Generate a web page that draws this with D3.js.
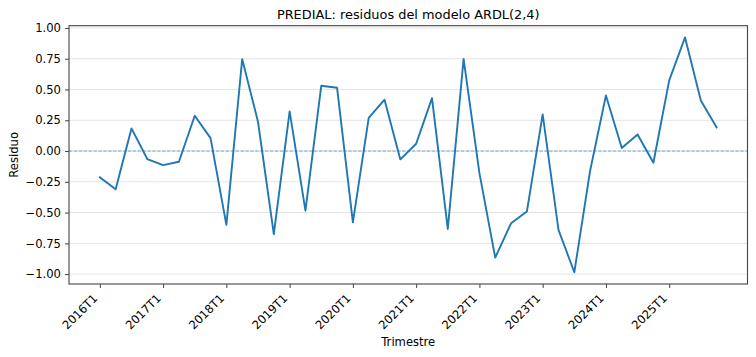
<!DOCTYPE html>
<html>
<head>
<meta charset="utf-8">
<script src="https://cdn.jsdelivr.net/npm/d3@7"></script>
<style>
  html, body { margin: 0; padding: 0; background: #fff; }
  svg { display: block; font-family: "DejaVu Sans", sans-serif; }
</style>
</head>
<body>
<svg id="chart" width="756" height="357"></svg>
<script>
// ---- data ----
const years = [2016, 2017, 2018, 2019, 2020, 2021, 2022, 2023, 2024, 2025];
const quarters = [];
years.forEach(y => [1, 2, 3, 4].forEach(q => quarters.push(y + "T" + q)));
const residuals = [
  -0.213, -0.311, 0.184, -0.065, -0.114, -0.087, 0.287, 0.105,
  -0.600, 0.747, 0.238, -0.676, 0.322, -0.485, 0.530, 0.514,
  -0.579, 0.270, 0.417, -0.068, 0.059, 0.430, -0.633, 0.749,
  -0.180, -0.866, -0.587, -0.492, 0.298, -0.641, -0.985, -0.160,
  0.452, 0.024, 0.135, -0.095, 0.574, 0.923, 0.411, 0.192
];
const yTicks = [-1.00, -0.75, -0.50, -0.25, 0.00, 0.25, 0.50, 0.75, 1.00];
const xTickLabels = years.map(y => y + "T1");
const title = "PREDIAL: residuos del modelo ARDL(2,4)";
const xTitle = "Trimestre";
const yTitle = "Residuo";

// ---- layout ----
const svg = d3.select("#chart");
const L = 69, R = 747.5, T = 25.7, B = 284;
const n = residuals.length;
const xm = (n - 1) * 0.05;
const x = d3.scaleLinear().domain([-xm, n - 1 + xm]).range([L, R]);
const ymin = d3.min(residuals), ymax = d3.max(residuals);
const ym = (ymax - ymin) * 0.05;
const y = d3.scaleLinear().domain([ymin - ym, ymax + ym]).range([B, T]);

const fs = 11.6;

// grid
svg.append("g").selectAll("line").data(yTicks).join("line")
  .attr("x1", L).attr("x2", R)
  .attr("y1", d => y(d)).attr("y2", d => y(d))
  .attr("stroke", "#e3e3e3").attr("stroke-width", 1);

// zero line
svg.append("line")
  .attr("x1", L).attr("x2", R).attr("y1", y(0)).attr("y2", y(0))
  .attr("stroke", "#1f77b4").attr("stroke-opacity", 0.6)
  .attr("stroke-width", 1).attr("stroke-dasharray", "3.4,1.5");

// line
const line = d3.line().x((d, i) => x(i)).y(d => y(d));
svg.append("path").datum(residuals)
  .attr("d", line).attr("fill", "none")
  .attr("stroke", "#1f77b4").attr("stroke-width", 1.9)
  .attr("stroke-linejoin", "round").attr("stroke-linecap", "square");

// spines
svg.append("rect").attr("x", L).attr("y", T).attr("width", R - L).attr("height", B - T)
  .attr("fill", "none").attr("stroke", "#444").attr("stroke-width", 1.1);

// y axis
const yAxis = d3.axisLeft(y).tickValues(yTicks).tickFormat(d3.format(".2f"))
  .tickSize(4).tickPadding(4);
const gy = svg.append("g").attr("transform", `translate(${L},0)`).call(yAxis);
gy.select(".domain").remove();
gy.selectAll("line").attr("stroke", "#444").attr("stroke-width", 1);
gy.selectAll("text").attr("font-size", fs).attr("fill", "#000")
  .attr("font-family", "DejaVu Sans").text(d => d3.format(".2f")(d).replace("-", "\u2212"));

// x axis
const xTickIdx = xTickLabels.map(lbl => quarters.indexOf(lbl));
const xAxis = d3.axisBottom(x).tickValues(xTickIdx).tickFormat(i => quarters[i])
  .tickSize(4).tickPadding(4);
const gx = svg.append("g").attr("transform", `translate(0,${B})`).call(xAxis);
gx.select(".domain").remove();
gx.selectAll("line").attr("stroke", "#444").attr("stroke-width", 1);
gx.selectAll("text").attr("font-size", fs).attr("fill", "#000")
  .attr("font-family", "DejaVu Sans")
  .attr("text-anchor", "end")
  .attr("dy", null).attr("y", null)
  .attr("transform", "translate(-2,15) rotate(-45)");

// titles
svg.append("text").attr("x", (L + R) / 2).attr("y", 19)
  .attr("text-anchor", "middle").attr("font-size", 12.9).text(title);
svg.append("text").attr("x", (L + R) / 2).attr("y", 346)
  .attr("text-anchor", "middle").attr("font-size", fs).text(xTitle);
svg.append("text").attr("transform", `translate(18,${(T + B) / 2}) rotate(-90)`)
  .attr("text-anchor", "middle").attr("font-size", fs).text(yTitle);
</script>
</body>
</html>
